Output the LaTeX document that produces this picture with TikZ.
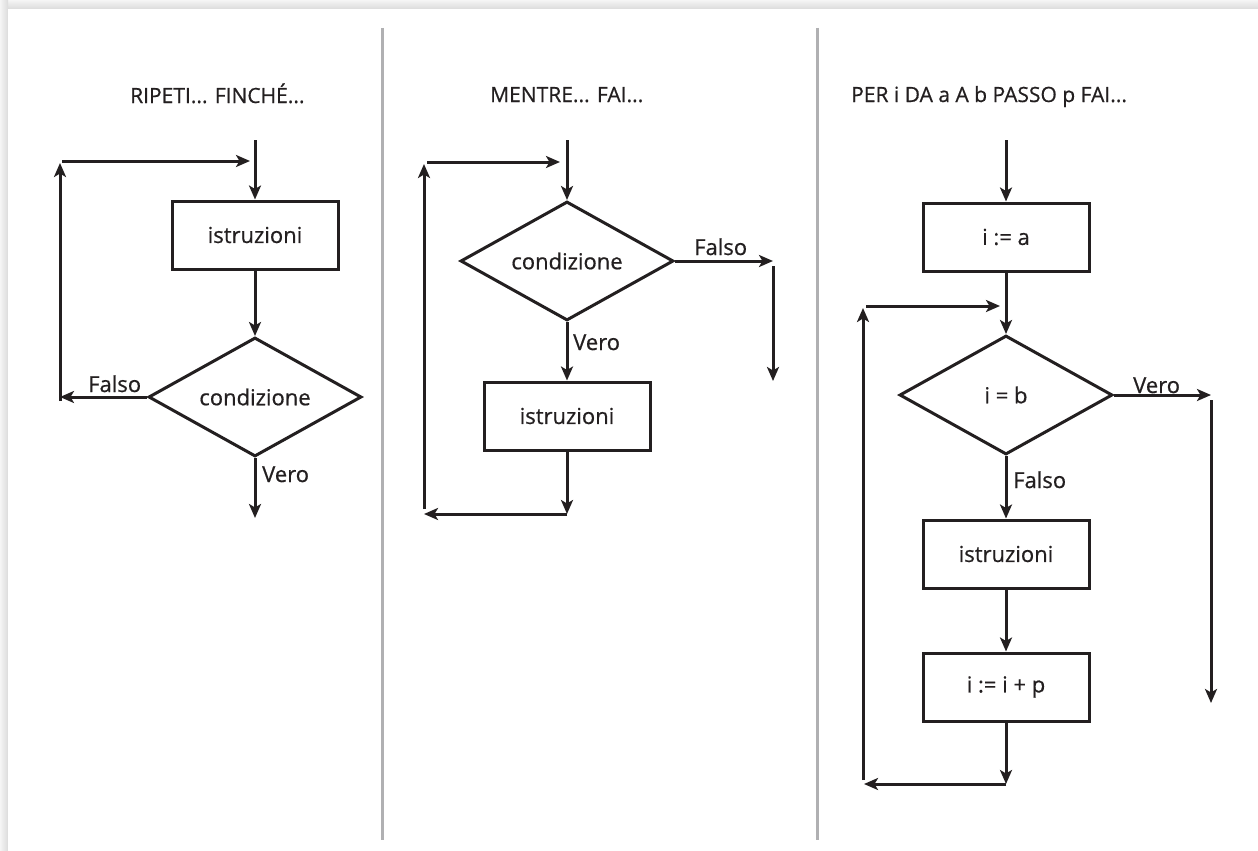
\documentclass[tikz,border=0pt]{standalone}
\usepackage{fontspec}
\setmainfont{Open Sans}[FakeBold=0.6]
\usetikzlibrary{shapes.geometric,arrows.meta}
\definecolor{ink}{HTML}{231F20}
\definecolor{rule}{HTML}{B0B0B2}
\begin{document}
\begin{tikzpicture}[x=1pt,y=-1pt,
  every node/.style={font=\fontsize{22}{26}\selectfont, text=ink},
  flow/.style={draw=ink, line width=3pt, -{Stealth[length=14pt,width=12pt,inset=3.5pt]}},
  stepbox/.style={draw=ink, line width=3pt, rectangle, minimum width=166pt, minimum height=68pt, inner sep=0pt},
  test/.style={draw=ink, line width=3pt, diamond, shape aspect=1.8, minimum width=213pt, minimum height=119pt, inner sep=0pt},
  lbl/.style={anchor=base west, inner sep=0pt},
  title/.style={anchor=base west, inner sep=0pt, font=\fontsize{21}{25}\selectfont}]
% page frame with soft shadow on the top and left edges
\useasboundingbox (0,0) rectangle (1258,851);
\fill[gray!18] (0,0) rectangle (1258,851);
\shade[top color=gray!8, bottom color=gray!28] (0,0) rectangle (1258,9);
\shade[left color=gray!8, right color=gray!28] (0,0) rectangle (8,851);
\fill[white] (8,9) rectangle (1258,851);
% column separators
\draw[rule, line width=3pt] (382,28) -- (382,840);
\draw[rule, line width=3pt] (817,28) -- (817,840);

% ---- RIPETI ... FINCHE ----
\node[title] (t1) at (130,103) {RIPETI... FINCHÉ...};
\coordinate (a1in) at (255,140);
\node[stepbox] (a1box) at (255,235) {istruzioni};
\node[test] (a1cond) at (255,397) {condizione};
\coordinate (a1out) at (255,518);
\coordinate (a1fl) at (60,397);
\coordinate (a1fu) at (60,163);
\coordinate (a1ret) at (62,161);
\coordinate (a1rete) at (250,161);
\draw[flow] (a1in) -- (a1box.north);
\draw[flow] (a1box.south) -- (a1cond.north);
\draw[flow] (a1cond.west) -- (a1fl);
\draw[flow] (a1cond.south) -- (a1out);
\draw[flow] ([yshift=-4pt]a1fl) -- (a1fu);
\draw[flow] (a1ret) -- (a1rete);
\node[lbl] (a1f) at (88,392) {Falso};
\node[lbl] (a1v) at (262,482) {Vero};

% ---- MENTRE ... FAI ----
\node[title] (t2) at (490,102) {MENTRE... FAI...};
\coordinate (b2in) at (567,140);
\node[test] (b2cond) at (567,261) {condizione};
\node[stepbox] (b2box) at (567,416) {istruzioni};
\coordinate (b2fr) at (773,261);
\coordinate (b2ft) at (773,266);
\coordinate (b2fb) at (773,381);
\coordinate (b2bot) at (567,514);
\coordinate (b2bl) at (424,514);
\coordinate (b2lb) at (424,509);
\coordinate (b2lt) at (424,164);
\coordinate (b2ret) at (427,162);
\coordinate (b2rete) at (560,162);
\draw[flow] (b2in) -- (b2cond.north);
\draw[flow] (b2cond.east) -- (b2fr);
\draw[flow] (b2ft) -- (b2fb);
\draw[flow] (b2cond.south) -- (b2box.north);
\draw[flow] (b2box.south) -- (b2bot);
\draw[flow] (b2bot) -- (b2bl);
\draw[flow] (b2lb) -- (b2lt);
\draw[flow] (b2ret) -- (b2rete);
\node[lbl] (b2f) at (694,255) {Falso};
\node[lbl] (b2v) at (573,350) {Vero};

% ---- PER i DA a A b PASSO p FAI ----
\node[title] (t3) at (851,102) {PER i DA a A b PASSO p FAI...};
\coordinate (c3in) at (1006,140);
\node[stepbox] (c3init) at (1006,237) {i := a};
\node[test] (c3cond) at (1006,395) {i = b};
\node[stepbox] (c3body) at (1006,554) {istruzioni};
\node[stepbox] (c3inc) at (1006,687) {i := i + p};
\coordinate (c3vr) at (1211,395);
\coordinate (c3vt) at (1211,400);
\coordinate (c3vb) at (1211,703);
\coordinate (c3bot) at (1006,784);
\coordinate (c3bl) at (864,784);
\coordinate (c3lb) at (863,780);
\coordinate (c3lt) at (863,308);
\coordinate (c3ret) at (866,306);
\coordinate (c3rete) at (1000,306);
\draw[flow] (c3in) -- (c3init.north);
\draw[flow] (c3init.south) -- (c3cond.north);
\draw[flow] (c3cond.east) -- (c3vr);
\draw[flow] (c3vt) -- (c3vb);
\draw[flow] (c3cond.south) -- (c3body.north);
\draw[flow] (c3body.south) -- (c3inc.north);
\draw[flow] (c3inc.south) -- (c3bot);
\draw[flow] (c3bot) -- (c3bl);
\draw[flow] (c3lb) -- (c3lt);
\draw[flow] (c3ret) -- (c3rete);
\node[lbl] (c3v) at (1133,393) {Vero};
\node[lbl] (c3f) at (1013,488) {Falso};
\end{tikzpicture}
\end{document}
